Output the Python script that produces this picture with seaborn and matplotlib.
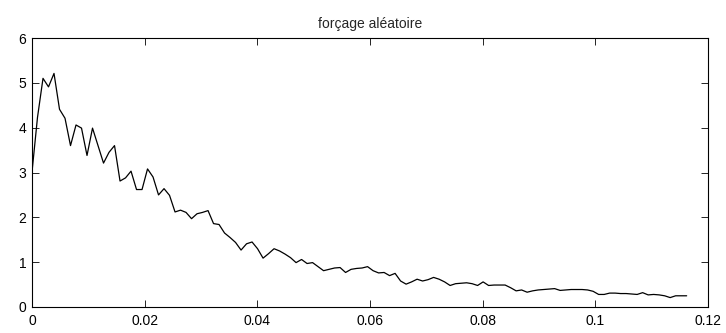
import numpy as np
import pandas as pd
import matplotlib
matplotlib.use("Agg")
import matplotlib.pyplot as plt
import seaborn as sns

# Spectrum of the random forcing, sampled every 1/1024
freq_step = 1.0 / 1024
amplitude = [
    3.01, 4.23, 5.10, 4.91, 5.21, 4.41, 4.21, 3.60, 4.06, 3.99,
    3.38, 3.99, 3.60, 3.21, 3.45, 3.60, 2.81, 2.88, 3.03, 2.62,
    2.62, 3.08, 2.90, 2.50, 2.64, 2.49, 2.12, 2.16, 2.11, 1.97,
    2.08, 2.11, 2.15, 1.86, 1.84, 1.65, 1.55, 1.44, 1.27, 1.41,
    1.45, 1.30, 1.09, 1.19, 1.30, 1.25, 1.18, 1.10, 0.99, 1.06,
    0.97, 0.99, 0.90, 0.81, 0.84, 0.87, 0.88, 0.77, 0.84, 0.86,
    0.87, 0.90, 0.81, 0.76, 0.77, 0.70, 0.75, 0.58, 0.51, 0.56,
    0.62, 0.58, 0.61, 0.66, 0.62, 0.56, 0.48, 0.52, 0.53, 0.54,
    0.52, 0.48, 0.56, 0.48, 0.49, 0.49, 0.49, 0.43, 0.36, 0.38,
    0.33, 0.36, 0.38, 0.39, 0.40, 0.41, 0.37, 0.38, 0.39, 0.39,
    0.39, 0.38, 0.35, 0.28, 0.28, 0.31, 0.31, 0.30, 0.30, 0.29,
    0.28, 0.32, 0.27, 0.28, 0.27, 0.25, 0.21, 0.25, 0.25, 0.25,
]
frequency = [i * freq_step for i in range(len(amplitude))]

x_ticks = [0, 0.02, 0.04, 0.06, 0.08, 0.1, 0.12]
x_tick_labels = ["0", "0.02", "0.04", "0.06", "0.08", "0.1", "0.12"]
y_ticks = [0, 1, 2, 3, 4, 5, 6]
y_tick_labels = ["0", "1", "2", "3", "4", "5", "6"]
title = "forçage aléatoire"

df = pd.DataFrame({"f": frequency, "a": amplitude})

sns.set_style("white")
plt.rcParams["font.family"] = ["Liberation Sans", "DejaVu Sans"]

fig = plt.figure(figsize=(7.26, 3.33), dpi=100)
ax = fig.add_axes([32 / 726, 1 - 307 / 333, (708 - 32) / 726, (307 - 38) / 333])

sns.lineplot(data=df, x="f", y="a", ax=ax, color="black", linewidth=0.9)

ax.set_xlim(0, 0.12)
ax.set_ylim(0, 6)
ax.set_xticks(x_ticks)
ax.set_xticklabels(x_tick_labels)
ax.set_yticks(y_ticks)
ax.set_yticklabels(y_tick_labels)
ax.set_xlabel("")
ax.set_ylabel("")
ax.set_title(title, fontsize=10, pad=7)

for s in ax.spines.values():
    s.set_visible(True)
    s.set_color("black")
    s.set_linewidth(0.8)

ax.tick_params(axis="both", which="both", direction="in", length=5, width=0.6,
               color="black", labelsize=10, labelcolor="black",
               top=True, right=True, bottom=True, left=True)
ax.tick_params(axis="x", pad=5)
ax.tick_params(axis="y", pad=4)

fig.savefig("out.png", dpi=100, facecolor="white")
